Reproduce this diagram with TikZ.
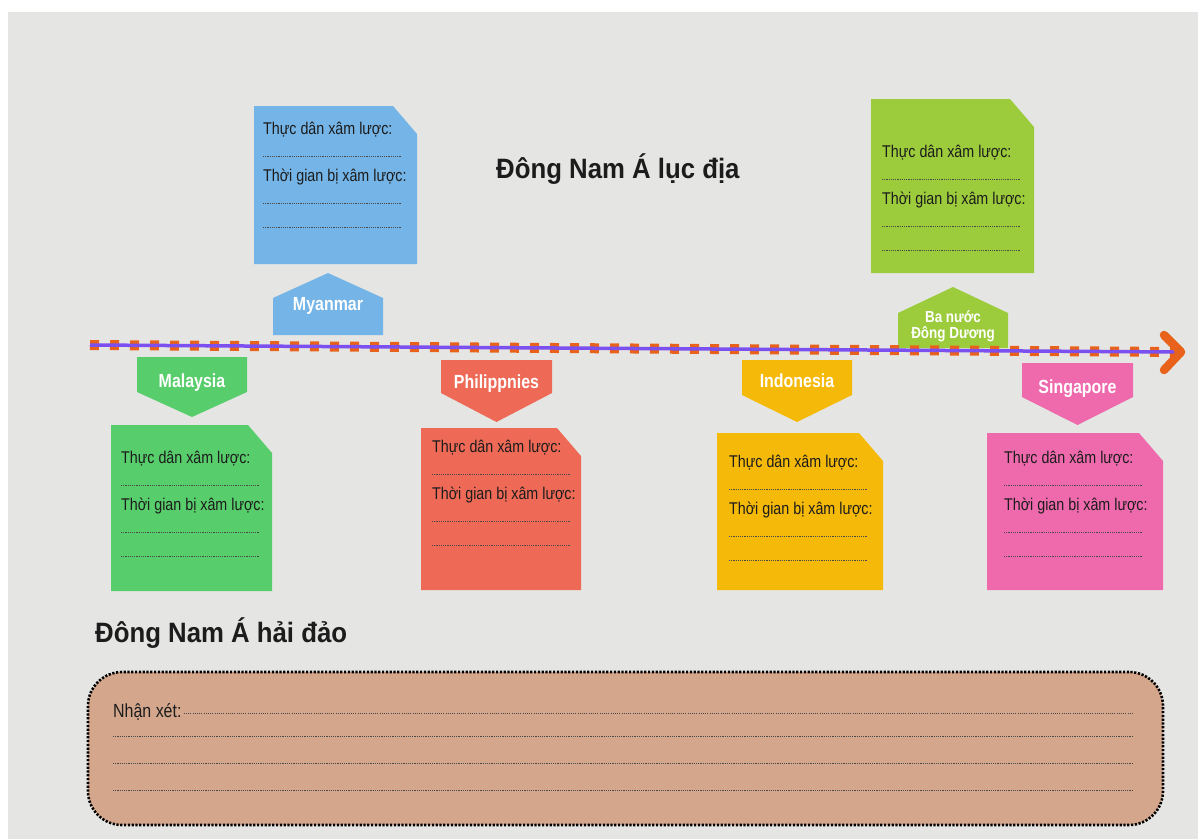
\documentclass[tikz,border=0pt]{standalone}
\usepackage{fontspec}
\setmainfont{Liberation Sans}
\newfontfamily\narrowfont[FakeStretch=0.84]{Liberation Sans}
\newfontfamily\titlefont[FakeStretch=0.92]{Liberation Sans}
\definecolor{bgc}{HTML}{E5E6E4}
\definecolor{cblue}{HTML}{74B4E6}
\definecolor{clime}{HTML}{9CCC3C}
\definecolor{cgreen}{HTML}{57CD6B}
\definecolor{cred}{HTML}{EE6A57}
\definecolor{cyellow}{HTML}{F5B90A}
\definecolor{cpink}{HTML}{EF6AAD}
\definecolor{cbrown}{HTML}{D4A78D}
\definecolor{cpurple}{HTML}{7B50EF}
\definecolor{corange}{HTML}{E9621B}
\definecolor{ink}{HTML}{1C1C1C}
\tikzset{
  cardtext/.style={anchor=base west, inner sep=0pt, text=ink, font=\narrowfont\fontsize{17}{20}\selectfont},
  dotline/.style={draw=ink!80, line width=0.8pt, dash pattern=on 1.1pt off 1.1pt},
  labeltext/.style={anchor=base, inner sep=0pt, text=white, font=\narrowfont\bfseries\fontsize{19}{22}\selectfont},
  titletext/.style={anchor=base west, inner sep=0pt, text=ink, font=\titlefont\bfseries\fontsize{28}{32}\selectfont}
}
% #1 name, #2 left, #3 top, #4 right, #5 bottom, #6 colour, #7 text x, #8 first text y
\newcommand\infocard[8]{%
  \fill[#6] (#2,#3) -- ({#4-24},#3) -- (#4,{#3+28}) -- (#4,#5) -- (#2,#5) -- cycle;
  \node[cardtext] (#1-a) at (#7,{#8+6}) {Thực dân xâm lược:};
  \draw[dotline] (#7,{#8+28}) -- ++(138,0);
  \node[cardtext] (#1-b) at (#7,{#8+53}) {Thời gian bị xâm lược:};
  \draw[dotline] (#7,{#8+75}) -- ++(138,0);
  \draw[dotline] (#7,{#8+99}) -- ++(138,0);
}
% #1 name, #2 left, #3 right, #4 top, #5 rect bottom, #6 point y, #7 colour, #8 baseline offset, #9 text
\newcommand\downlabel[9]{%
  \fill[#7] (#2,#4) -- (#3,#4) -- (#3,#5) -- ({(#2+#3)/2},#6) -- (#2,#5) -- cycle;
  \node[labeltext] (#1) at ({(#2+#3)/2},{#4+#8}) {#9};
}
% #1 name, #2 left, #3 right, #4 peak y, #5 shoulder y, #6 bottom, #7 colour
\newcommand\uplabel[7]{%
  \fill[#7] ({(#2+#3)/2},#4) -- (#3,#5) -- (#3,#6) -- (#2,#6) -- (#2,#5) -- cycle;
}
\begin{document}
\begin{tikzpicture}[x=1pt,y=-1pt]
\useasboundingbox (0,0) rectangle (1198,839);
\fill[white] (0,0) rectangle (1198,839);
\fill[bgc] (8,12) rectangle (1198,839);

% titles
\node[titletext] (t1) at (496,178) {Đông Nam Á lục địa};
\node[titletext] (t2) at (95,642) {Đông Nam Á hải đảo};

% upper cards
\infocard{mya}{254}{106}{417}{264}{cblue}{263}{128}
\infocard{dd}{871}{99}{1034}{273}{clime}{882}{151}

% upper labels
\uplabel{myal}{273}{383}{273}{298}{335}{cblue}
\node[labeltext] (myanmar) at (328,310) {Myanmar};
\uplabel{ddl}{898}{1008}{287}{313}{348}{clime}
\node[labeltext, font=\narrowfont\bfseries\fontsize{16}{16}\selectfont, align=center, anchor=center] (bandd) at (953,326) {Ba nước\\Đông Dương};

% lower labels
\downlabel{malaysia}{137}{247}{357}{392}{417}{cgreen}{30}{Malaysia}
\downlabel{philippnies}{441}{552}{360}{393}{422}{cred}{28}{Philippnies}
\downlabel{indonesia}{742}{852}{360}{395}{422}{cyellow}{27}{Indonesia}
\downlabel{singapore}{1022}{1133}{363}{397}{425}{cpink}{30}{Singapore}

% lower cards
\infocard{mal}{111}{425}{272}{591}{cgreen}{121}{457}
\infocard{phi}{421}{428}{581}{590}{cred}{432}{446}
\infocard{ind}{717}{433}{883}{590}{cyellow}{729}{461}
\infocard{sin}{987}{433}{1163}{590}{cpink}{1004}{457}

% timeline
\coordinate (tls) at (90,345);
\coordinate (tle) at (1180,352);
\draw[corange, line width=10pt, dash pattern=on 9pt off 11pt] (tls) -- (tle);
\draw[cpurple, line width=3.5pt] (tls) -- (tle);
\coordinate (a1) at (1164,335);
\coordinate (a2) at (1164,370);
\coordinate (tip) at (1181,352);
\draw[corange, line width=8.5pt, line cap=round, line join=round] (a1) -- (tip) -- (a2);

% comment box
\node[draw=black, fill=cbrown, line width=2.6pt, dash pattern=on 2.2pt off 1.6pt,
      rounded corners=34pt, minimum width=1075pt, minimum height=153pt, inner sep=0pt]
      (nx) at (625.5,748.5) {};
\node[anchor=base west, inner sep=0pt, text=ink, font=\narrowfont\fontsize{19}{22}\selectfont]
      (nxt) at (113,717) {Nhận xét:};
\draw[dotline] (nxt.base east) ++(2,-4) coordinate (d0) -- (1133,713);
\draw[dotline] (113,736) -- (1133,736);
\draw[dotline] (113,763) -- (1133,763);
\draw[dotline] (113,790) -- (1133,790);
\end{tikzpicture}
\end{document}
